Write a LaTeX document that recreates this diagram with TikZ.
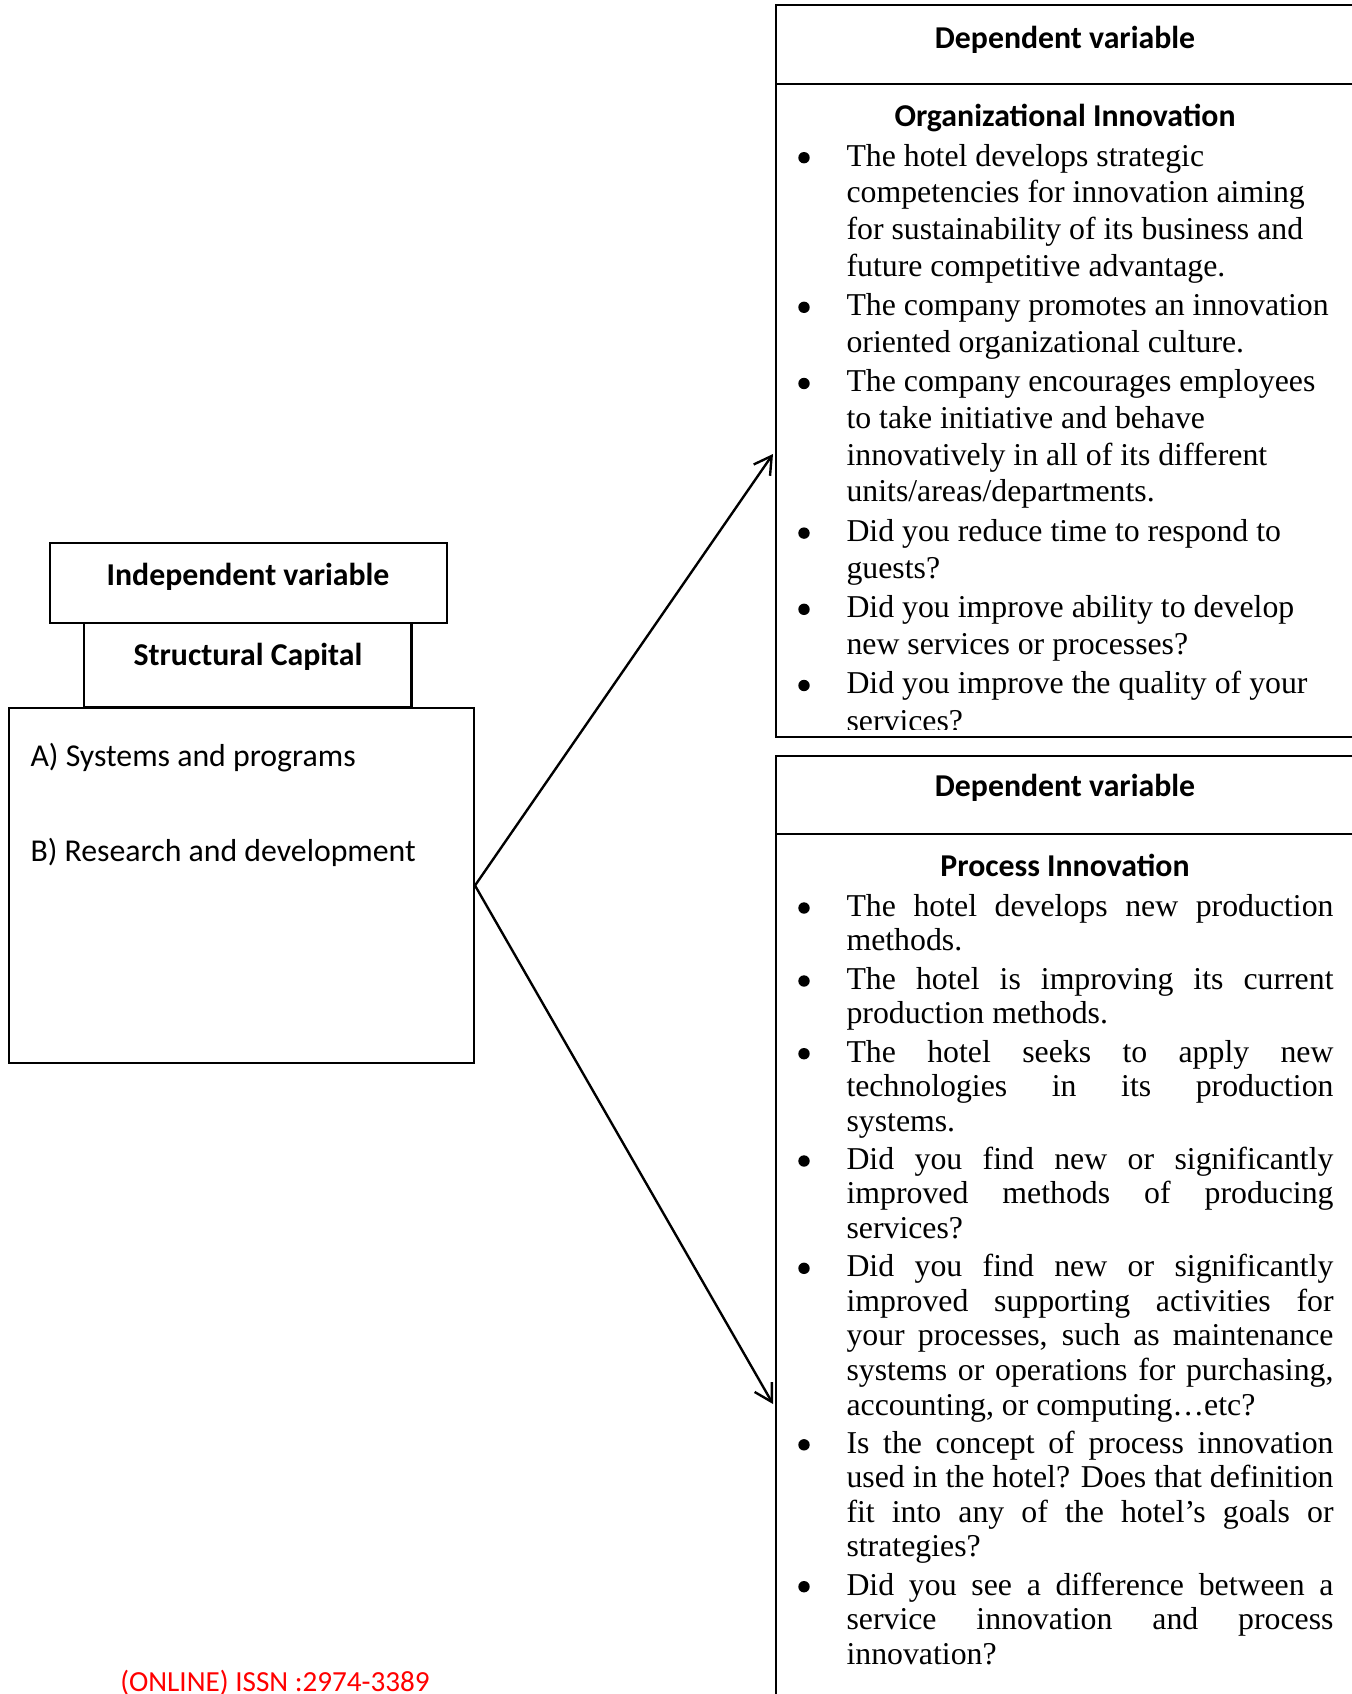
\documentclass[tikz,border=0pt]{standalone}
\usepackage{fontspec}
\setmainfont{Liberation Serif}
\newfontfamily\calibri{Carlito}
\usetikzlibrary{arrows.meta}
\newcommand{\jline}[1]{\makebox[183.8pt][s]{#1}}

\begin{document}
\begin{tikzpicture}[x=0.3774pt, y=-0.3774pt]
    \tikzstyle{box}=[draw, line width=0.8pt]
    \tikzstyle{head}=[font=\calibri\bfseries\fontsize{12}{14}\selectfont, inner sep=0pt]
    \tikzstyle{sans}=[font=\calibri\fontsize{12}{14}\selectfont, inner sep=0pt, anchor=west]
    \tikzstyle{ln}=[font=\fontsize{12}{14}\selectfont, inner sep=0pt, anchor=base west]
    \tikzstyle{v}=[circle, fill=black, inner sep=0pt, minimum size=4.3pt]
    \tikzstyle{arr}=[line width=0.9pt, -{Straight Barb[length=6.5pt,width=7.5pt]}]
    \useasboundingbox (0,0) rectangle (1351,1694);

    % independent side
    \draw[box] (49.7,543) rectangle (447,623);
    \draw[box] (84,623) rectangle (411.5,707.5);
    \node[box, minimum width=175.6pt, minimum height=134pt] (sc) at (241.3,885.5) {};
    \node[head] (iv) at (248,576.8) {Independent variable};
    \node[head] (cap) at (248,656.7) {Structural Capital};
    \node[sans] (sa) at (30,758) {A) Systems and programs};
    \node[sans] (sb) at (30,852) {B) Research and development};

    % dependent: organizational innovation
    \draw[box] (776,5) rectangle (1356,737);
    \draw[box] (776,84) -- (1356,84);
    \node[head] (dv1) at (1065,40) {Dependent variable};
    \node[head] (org) at (1065,117.8) {Organizational Innovation};
    \node[ln] (o1) at (846,166) {The hotel develops strategic};
    \node[ln] (o2) at (846,202.7) {competencies for innovation aiming};
    \node[ln] (o3) at (846,239.4) {for sustainability of its business and};
    \node[ln] (o4) at (846,276.1) {future competitive advantage.};
    \node[ln] (o5) at (846,315.6) {The company promotes an innovation};
    \node[ln] (o6) at (846,352.3) {oriented organizational culture.};
    \node[ln] (o7) at (846,391.8) {The company encourages employees};
    \node[ln] (o8) at (846,428.5) {to take initiative and behave};
    \node[ln] (o9) at (846,465.2) {innovatively in all of its different};
    \node[ln] (o10) at (846,501.9) {units/areas/departments.};
    \node[ln] (o11) at (846,541.4) {Did you reduce time to respond to};
    \node[ln] (o12) at (846,578.1) {guests?};
    \node[ln] (o13) at (846,617.6) {Did you improve ability to develop};
    \node[ln] (o14) at (846,654.3) {new services or processes?};
    \node[ln] (o15) at (846,693.8) {Did you improve the quality of your};
    \begin{scope}
      \clip (776,84) rectangle (1356,729);
      \node[ln] (o16) at (846,731) {services?};
    \end{scope}
    \foreach \y [count=\i] in {166,315.6,391.8,541.4,617.6,693.8}
      \node[v] (ob\i) at (804,\y-8.3) {};

    % dependent: process innovation
    \draw[box] (776,1700) -- (776,756) -- (1356,756);
    \draw[box] (776,834) -- (1356,834);
    \node[head] (dv2) at (1065,788.2) {Dependent variable};
    \node[head] (proc) at (1065,865.5) {Process Innovation};
    \node[ln] (p1) at (846,916.3) {\jline{The hotel develops new production}};
    \node[ln] (p2) at (846,950.9) {methods.};
    \node[ln] (p3) at (846,989.3) {\jline{The hotel is improving its current}};
    \node[ln] (p4) at (846,1023.9) {production methods.};
    \node[ln] (p5) at (846,1062) {\jline{The hotel seeks to apply new}};
    \node[ln] (p6) at (846,1096.6) {\jline{technologies in its production}};
    \node[ln] (p7) at (846,1131.2) {systems.};
    \node[ln] (p8) at (846,1169.3) {\jline{Did you find new or significantly}};
    \node[ln] (p9) at (846,1203.9) {\jline{improved methods of producing}};
    \node[ln] (p10) at (846,1238.5) {services?};
    \node[ln] (p11) at (846,1276.6) {\jline{Did you find new or significantly}};
    \node[ln] (p12) at (846,1311.2) {\jline{improved supporting activities for}};
    \node[ln] (p13) at (846,1345.8) {\jline{your processes, such as maintenance}};
    \node[ln] (p14) at (846,1380.4) {\jline{systems or operations for purchasing,}};
    \node[ln] (p15) at (846,1415) {accounting, or computing…etc?};
    \node[ln] (p16) at (846,1453.1) {\jline{Is the concept of process innovation}};
    \node[ln] (p17) at (846,1487.7) {\jline{used in the hotel? Does that definition}};
    \node[ln] (p18) at (846,1522.3) {\jline{fit into any of the hotel's goals or}};
    \node[ln] (p19) at (846,1556.9) {strategies?};
    \node[ln] (p20) at (846,1595) {\jline{Did you see a difference between a}};
    \node[ln] (p21) at (846,1629.6) {\jline{service innovation and process}};
    \node[ln] (p22) at (846,1664.2) {innovation?};
    \foreach \y [count=\i] in {916.3,989.3,1062,1169.3,1276.6,1453.1,1595}
      \node[v] (pb\i) at (804,\y-8.3) {};

    % arrows
    \coordinate (orgtip) at (773,454);
    \coordinate (proctip) at (773,1404);
    \draw[arr] (sc.east) -- (orgtip);
    \draw[arr] (sc.east) -- (proctip);

    \node[font=\calibri\fontsize{11}{13}\selectfont, text=red, inner sep=0pt, anchor=base] (issn) at (275,1691) {(ONLINE) ISSN :2974-3389};
  \end{tikzpicture}
\end{document}
